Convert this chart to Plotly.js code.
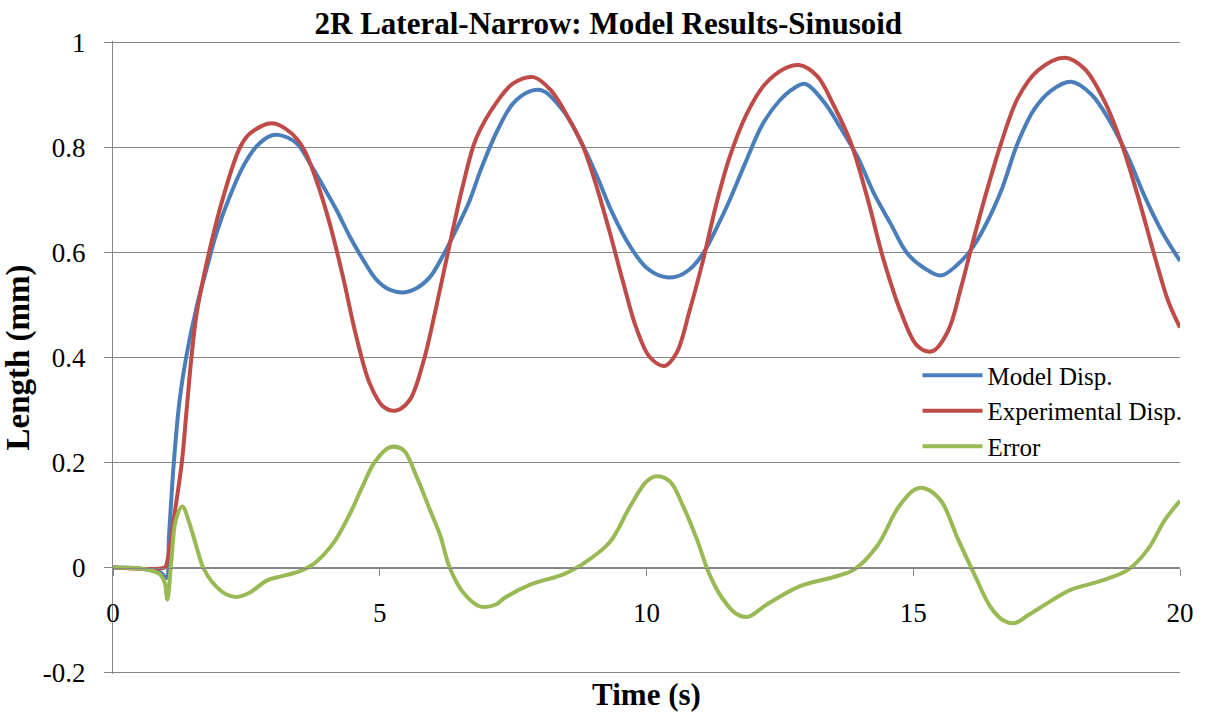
<!DOCTYPE html>
<html><head><meta charset="utf-8">
<script src="https://cdn.plot.ly/plotly-3.0.1.min.js"></script>
<style>html,body{margin:0;padding:0;background:#fff}#chart{width:1207px;height:716px}</style>
</head><body><div id="chart"></div>
<script>
const tModel=[0,0.5,0.9,1.0,1.05,1.14,1.25,1.37,1.57,1.75,1.94,2.19,2.44,2.69,2.95,3.1,3.44,3.69,3.94,4.19,4.44,4.69,4.94,5.19,5.44,5.69,5.94,6.19,6.44,6.69,6.88,7.19,7.5,7.81,8.06,8.44,8.75,9.06,9.37,9.69,10.0,10.31,10.56,10.81,11.06,11.31,11.56,11.87,12.18,12.5,12.75,12.98,13.33,13.64,13.96,14.27,14.58,14.89,15.21,15.52,15.83,16.08,16.33,16.65,16.96,17.27,17.58,17.96,18.34,18.72,19.03,19.35,19.66,20.0];
const modelDisp=[0,-0.002,-0.01,-0.02,0.06,0.2,0.32,0.4,0.497,0.567,0.637,0.707,0.764,0.802,0.822,0.824,0.808,0.77,0.726,0.681,0.63,0.586,0.548,0.529,0.524,0.532,0.553,0.595,0.645,0.70,0.754,0.829,0.884,0.907,0.908,0.87,0.816,0.748,0.673,0.612,0.571,0.554,0.554,0.568,0.598,0.646,0.70,0.775,0.845,0.89,0.912,0.921,0.886,0.837,0.781,0.711,0.654,0.598,0.57,0.556,0.577,0.605,0.647,0.718,0.809,0.873,0.908,0.925,0.901,0.844,0.781,0.704,0.64,0.584];

const tExp=[0,0.97,1.0,1.15,1.29,1.38,1.47,1.57,1.8,2.07,2.38,2.57,2.98,3.31,3.56,3.81,4.06,4.31,4.56,4.81,5.06,5.31,5.56,5.81,6.06,6.31,6.56,6.81,7.19,7.5,7.88,8.19,8.5,8.81,9.06,9.31,9.56,9.81,10.06,10.34,10.56,10.81,11.06,11.31,11.56,11.87,12.2,12.58,12.86,13.2,13.51,13.83,14.14,14.45,14.77,15.08,15.36,15.65,15.9,16.15,16.4,16.65,16.96,17.34,17.84,18.21,18.59,18.9,19.22,19.53,19.78,20.0];
const expDisp=[0,0,0.005,0.1,0.2,0.3,0.4,0.485,0.6,0.707,0.8,0.827,0.846,0.83,0.80,0.738,0.656,0.554,0.44,0.351,0.307,0.299,0.319,0.389,0.497,0.615,0.728,0.818,0.886,0.922,0.934,0.911,0.863,0.802,0.727,0.639,0.544,0.456,0.401,0.384,0.408,0.49,0.585,0.693,0.782,0.862,0.918,0.95,0.957,0.936,0.88,0.809,0.704,0.584,0.486,0.422,0.412,0.45,0.535,0.633,0.725,0.809,0.894,0.947,0.971,0.95,0.887,0.809,0.704,0.591,0.507,0.457];

const tErr=[0,0.38,0.69,0.88,0.97,1.02,1.09,1.18,1.3,1.43,1.56,1.69,1.87,2.12,2.31,2.56,2.88,3.19,3.5,3.75,4.12,4.43,4.68,4.9,5.19,5.44,5.69,5.94,6.13,6.31,6.56,6.88,7.19,7.31,7.81,8.44,8.81,9.31,9.69,10.0,10.19,10.44,10.69,10.94,11.18,11.43,11.68,11.9,12.26,12.89,13.51,13.89,14.33,14.71,15.02,15.21,15.52,15.83,16.15,16.46,16.71,16.9,17.15,17.59,17.96,18.53,19.03,19.4,19.72,20.0];
const errVals=[0,-0.001,-0.005,-0.013,-0.029,-0.061,0.009,0.091,0.116,0.085,0.041,0.0,-0.029,-0.051,-0.056,-0.048,-0.025,-0.016,-0.007,0.006,0.045,0.1,0.155,0.2,0.229,0.224,0.173,0.11,0.062,0.0,-0.047,-0.074,-0.07,-0.06,-0.033,-0.013,0.007,0.048,0.116,0.164,0.174,0.164,0.116,0.055,-0.013,-0.06,-0.088,-0.094,-0.07,-0.035,-0.018,-0.004,0.042,0.113,0.148,0.151,0.127,0.056,-0.014,-0.077,-0.102,-0.106,-0.091,-0.063,-0.042,-0.025,-0.004,0.035,0.091,0.127];

const seriesNames=['Model Disp.','Experimental Disp.','Error'];
const seriesColors=['#4A7EBB','#BE4B48','#98B954'];
const xTickVals=[0,5,10,15,20];
const xTickText=['0','5','10','15','20'];
const yTickVals=[-0.2,0,0.2,0.4,0.6,0.8,1];
const yTickText=['-0.2','0','0.2','0.4','0.6','0.8','1'];

const xs=[tModel,tExp,tErr], ys=[modelDisp,expDisp,errVals];
const traces=seriesNames.map((n,i)=>({
  x:xs[i],y:ys[i],name:n,type:'scatter',mode:'lines',
  line:{color:seriesColors[i],width:4,shape:'spline',smoothing:1}
}));

const FONT='Liberation Serif, Times New Roman, serif';
const yLo=-0.2028, yHi=1.0028;
const layout={
  width:1207,height:716,
  margin:{l:113,r:27,t:41,b:42,pad:0},
  paper_bgcolor:'#fff',plot_bgcolor:'#fff',
  font:{family:FONT,color:'#000',size:26},
  showlegend:true,
  title:{text:'<b>2R Lateral-Narrow: Model Results-Sinusoid</b>',font:{family:FONT,size:31,color:'#000'},
    x:0.504,xanchor:'center',xref:'container',y:0.968,yanchor:'middle',yref:'container'},
  xaxis:{range:[0,20],anchor:'free',position:(0-yLo)/(yHi-yLo),showline:true,linecolor:'#868686',linewidth:1,
    ticks:'outside',ticklen:7,tickcolor:'#868686',tickvals:xTickVals,ticktext:xTickText,
    showgrid:false,zeroline:false,tickfont:{size:27},ticklabelstandoff:14,automargin:false,
    title:{text:'<b>Time (s)</b>',font:{size:31},standoff:56}},
  yaxis:{range:[yLo,yHi],showline:true,linecolor:'#868686',linewidth:1,
    ticks:'outside',ticklen:8,tickcolor:'#868686',tickvals:yTickVals,ticktext:yTickText,
    showgrid:true,gridcolor:'#868686',gridwidth:1,zeroline:false,tickfont:{size:27},ticklabelstandoff:13,automargin:false,
    title:{text:'<b>Length (mm)</b>',font:{size:33},standoff:3}},
  legend:{x:0.754,y:0.508,xanchor:'left',yanchor:'top',bgcolor:'rgba(0,0,0,0)',borderwidth:0,
    font:{size:25},itemwidth:60}
};
Plotly.newPlot('chart',traces,layout,{displayModeBar:false,staticPlot:true});
</script></body></html>
